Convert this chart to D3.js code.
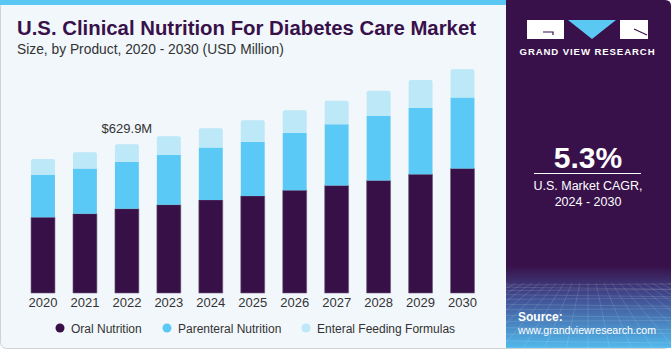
<!DOCTYPE html>
<html>
<head>
<meta charset="utf-8">
<script src="https://cdn.jsdelivr.net/npm/d3@7"></script>
<style>
  body { margin: 0; background: #ffffff; }
  svg { display: block; font-family: "Liberation Sans", Arial, sans-serif; }
</style>
</head>
<body>
<div id="chart"></div>
<script>
// data (USD Million)
const years = ["2020", "2021", "2022", "2023", "2024", "2025", "2026", "2027", "2028", "2029", "2030"];
const oralNutrition = [321, 336, 357, 374, 394, 411, 435, 455, 477, 503, 527];
const parenteralNutrition = [179, 191, 199, 212, 222, 230, 244, 260, 274, 282, 301];
const enteralFormulas = [68, 69, 74, 78, 82, 91, 95, 99, 106, 117, 120];
const seriesNames = ["Oral Nutrition", "Parenteral Nutrition", "Enteral Feeding Formulas"];
const seriesColors = ["#371047", "#5bc9f5", "#bce8f8"];
const labelYear = "2022";
const labelText = "$629.9M";

const W = 671, H = 350;
const svg = d3.select("#chart").append("svg")
  .attr("width", W).attr("height", H);

// card background
svg.append("rect")
  .attr("x", 0.5).attr("y", 0.5).attr("width", W - 1).attr("height", H - 2)
  .attr("rx", 6).attr("fill", "#f2f7fb").attr("stroke", "#cfd3d6");
svg.append("rect")
  .attr("x", 0).attr("y", 0).attr("width", 506).attr("height", 5)
  .attr("fill", "#5bc8f3");

// right panel
const defs = svg.append("defs");
const grad = defs.append("linearGradient").attr("id", "panelGrad")
  .attr("x1", 0).attr("y1", 0).attr("x2", 0).attr("y2", 1);
grad.append("stop").attr("offset", "0%").attr("stop-color", "#38114a");
grad.append("stop").attr("offset", "76%").attr("stop-color", "#38114a");
grad.append("stop").attr("offset", "85%").attr("stop-color", "#404e92");
grad.append("stop").attr("offset", "100%").attr("stop-color", "#52bdf0");
const clip = defs.append("clipPath").attr("id", "panelClip");
clip.append("path").attr("d", "M506,0 H665 Q671,0 671,6 V348 H506 Z");

const panel = svg.append("g").attr("clip-path", "url(#panelClip)");
panel.append("rect").attr("x", 506).attr("y", 0).attr("width", 165).attr("height", 350)
  .attr("fill", "url(#panelGrad)");

// faint mesh at the bottom of the panel
const mesh = panel.append("g").attr("stroke", "#ffffff").attr("stroke-opacity", 0.16)
  .attr("stroke-width", 0.8).attr("fill", "none");
d3.range(0, 14).forEach(i => {
  const yy = 285 + Math.pow(i, 1.35) * 2.2;
  mesh.append("line").attr("x1", 506).attr("x2", 671).attr("y1", yy).attr("y2", yy + (i % 2 ? 2 : -1));
});
d3.range(-12, 13).forEach(i => {
  mesh.append("line").attr("x1", 588 + i * 8).attr("y1", 283)
    .attr("x2", 588 + i * 22).attr("y2", 350);
});

// logo
const logo = svg.append("g");
logo.append("rect").attr("x", 527).attr("y", 20).attr("width", 37).attr("height", 19).attr("fill", "#ffffff");
logo.append("path").attr("d", "M543,32 H553 V35").attr("stroke", "#38114a").attr("stroke-width", 1.2).attr("fill", "none");
logo.append("path").attr("d", "M568,20 H616 L592,39 Z").attr("fill", "#5bc8f3");
logo.append("rect").attr("x", 620).attr("y", 20).attr("width", 28).attr("height", 19).attr("fill", "#ffffff");
logo.append("path").attr("d", "M634,29 L647,35").attr("stroke", "#38114a").attr("stroke-width", 1.2);
svg.append("text").attr("x", 587.5).attr("y", 55).attr("text-anchor", "middle")
  .attr("fill", "#ffffff").attr("font-size", 9.6).attr("font-weight", "bold")
  .attr("letter-spacing", 0.9).text("GRAND VIEW RESEARCH");

// CAGR block
svg.append("text").attr("x", 588).attr("y", 168).attr("text-anchor", "middle")
  .attr("fill", "#ffffff").attr("font-size", 30).attr("font-weight", "bold").text("5.3%");
svg.append("line").attr("x1", 534).attr("x2", 641).attr("y1", 173.5).attr("y2", 173.5)
  .attr("stroke", "#ffffff").attr("stroke-width", 1);
svg.append("text").attr("x", 588).attr("y", 190).attr("text-anchor", "middle")
  .attr("fill", "#ffffff").attr("font-size", 12.5).text("U.S. Market CAGR,");
svg.append("text").attr("x", 588).attr("y", 206).attr("text-anchor", "middle")
  .attr("fill", "#ffffff").attr("font-size", 12.5).text("2024 - 2030");

// source
svg.append("text").attr("x", 518).attr("y", 321).attr("fill", "#ffffff")
  .attr("font-size", 12).attr("font-weight", "bold").text("Source:");
svg.append("text").attr("x", 518).attr("y", 334).attr("fill", "#ffffff")
  .attr("font-size", 11).attr("textLength", 138).attr("lengthAdjust", "spacingAndGlyphs")
  .text("www.grandviewresearch.com");

// title
svg.append("text").attr("x", 17).attr("y", 35).attr("fill", "#38114a")
  .attr("font-size", 19.5).attr("font-weight", "bold")
  .attr("textLength", 459).attr("lengthAdjust", "spacingAndGlyphs")
  .text("U.S. Clinical Nutrition For Diabetes Care Market");
svg.append("text").attr("x", 17).attr("y", 54).attr("fill", "#333333")
  .attr("font-size", 13.8).text("Size, by Product, 2020 - 2030 (USD Million)");

// bars
const rows = years.map((yr, i) => ({
  year: yr,
  [seriesNames[0]]: oralNutrition[i],
  [seriesNames[1]]: parenteralNutrition[i],
  [seriesNames[2]]: enteralFormulas[i]
}));
const stacked = d3.stack().keys(seriesNames)(rows);

const x = d3.scaleBand().domain(years).range([13, 492.5]).padding(0.43);
const y = d3.scaleLinear().domain([0, 1000]).range([293, 56.9]);
const color = d3.scaleOrdinal().domain(seriesNames).range(seriesColors);

const layers = svg.append("g").selectAll("g")
  .data(stacked).enter().append("g")
  .attr("fill", d => color(d.key));

layers.selectAll("path")
  .data(d => d.map(p => Object.assign(p, { key: d.key })))
  .enter().append("path")
  .attr("d", d => {
    const x0 = x(d.data.year), w = x.bandwidth();
    const top = y(d[1]), bot = y(d[0]);
    const r = d.key === seriesNames[2] ? 2 : 0;
    return `M${x0},${bot} V${top + r} Q${x0},${top} ${x0 + r},${top} H${x0 + w - r} Q${x0 + w},${top} ${x0 + w},${top + r} V${bot} Z`;
  })
  .attr("stroke", d => d.key === seriesNames[0] ? "#6c5a78" : "none")
  .attr("stroke-width", 0.6);

// value label
const labelIdx = years.indexOf(labelYear);
const labelTotal = oralNutrition[labelIdx] + parenteralNutrition[labelIdx] + enteralFormulas[labelIdx];
svg.append("text")
  .attr("x", x(labelYear) + x.bandwidth() / 2)
  .attr("y", y(labelTotal) - 11)
  .attr("text-anchor", "middle").attr("fill", "#333333").attr("font-size", 13)
  .text(labelText);

// x axis
const xAxis = svg.append("g").attr("transform", "translate(0,293)")
  .call(d3.axisBottom(x).tickSize(0).tickPadding(5));
xAxis.select(".domain").remove();
xAxis.selectAll("text").attr("font-size", 13).attr("fill", "#333333")
  .attr("font-family", "Liberation Sans, Arial, sans-serif");

// legend
const legendX = [60, 167, 306];
const legend = svg.append("g").selectAll("g")
  .data(seriesNames).enter().append("g")
  .attr("transform", (d, i) => `translate(${legendX[i]},328)`);
legend.append("circle").attr("r", 4.5).attr("fill", d => color(d));
legend.append("text").attr("x", 11).attr("y", 4.5)
  .attr("font-size", 12).attr("fill", "#333333").text(d => d);
</script>
</body>
</html>
